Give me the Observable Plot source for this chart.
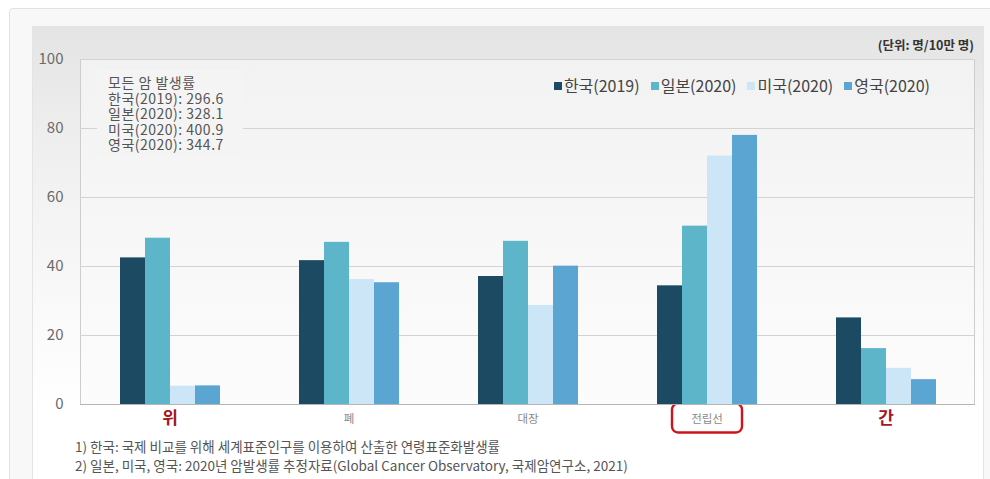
<!DOCTYPE html>
<html><head><meta charset="utf-8">
<script src="https://cdn.jsdelivr.net/npm/d3@7"></script>
<script src="https://cdn.jsdelivr.net/npm/@observablehq/plot@0.6"></script>
<style>
html,body{margin:0;padding:0;background:#fff;}
body{font-family:"Noto Sans CJK KR","Noto Sans",sans-serif;}
#wrap{position:relative;width:990px;height:479px;overflow:hidden;}
.abs{position:absolute;}
#outer{left:9px;top:8px;width:1000px;height:500px;border:1px solid #e2e2e2;border-radius:4px;background:#f8f8f8;}
#panel{left:32px;top:26px;width:950px;height:470px;border:1px solid #e4e4e4;background:linear-gradient(#e4e4e4 0px,#efefef 120px,#f8f8f8 260px,#fff 380px);}
#plotbg{left:80px;top:59px;width:895px;height:345px;border:1px solid #cdcdcd;border-bottom:none;box-sizing:border-box;background:linear-gradient(#f2f2f2,#f7f7f7 50%,#fcfcfc);}
#chart{left:0;top:0;}
#note{left:97px;top:70px;width:146px;padding:5px 0 4px 11px;box-sizing:border-box;background:#f4f4f4;font-size:14px;line-height:15.5px;letter-spacing:0.5px;color:#555;}
#legend{right:60px;top:73px;display:flex;gap:11px;font-size:16px;color:#444;white-space:nowrap;}
#legend span.sw{display:inline-block;width:8px;height:8px;margin-right:2px;vertical-align:2px;}
#unit{right:16px;top:35px;font-size:12.5px;font-weight:bold;color:#333;}
#foot{left:75px;top:437px;font-size:13.5px;line-height:18.5px;color:#555;white-space:nowrap;}
</style></head>
<body>
<div id="wrap">
  <div id="outer" class="abs"></div>
  <div id="panel" class="abs"></div>
  <div id="plotbg" class="abs"></div>
  <div id="chart" class="abs"></div>
  <div id="note" class="abs"></div>
  <div id="legend" class="abs"></div>
  <div id="unit" class="abs">(단위: 명/10만 명)</div>
  <div id="foot" class="abs"></div>
</div>
<script>
// ---- data ----
const categories = ["위", "폐", "대장", "전립선", "간"];
const series = ["한국(2019)", "일본(2020)", "미국(2020)", "영국(2020)"];
const korea2019 = [42.5, 41.7, 37.1, 34.4, 25.1];
const japan2020 = [48.2, 47.0, 47.3, 51.7, 16.2];
const usa2020   = [5.3, 36.2, 28.7, 72.0, 10.5];
const uk2020    = [5.4, 35.3, 40.1, 78.0, 7.2];
const colors = ["#1d4a63", "#5cb5c9", "#cce6f7", "#5aa5d2"];
const yTicks = [0, 20, 40, 60, 80, 100];
const allCancerTitle = "모든 암 발생률";
const allCancer = [296.6, 328.1, 400.9, 344.7];
const highlighted = ["위", "간"];
const boxed = ["전립선"];
const footnotes = [
  "1) 한국: 국제 비교를 위해 세계표준인구를 이용하여 산출한 연령표준화발생률",
  "2) 일본, 미국, 영국:  2020년 암발생률 추정자료(Global Cancer Observatory, 국제암연구소, 2021)"
];

const valuesBySeries = [korea2019, japan2020, usa2020, uk2020];
const table = [];
categories.forEach((c, i) => series.forEach((s, j) => table.push({cat: c, series: s, value: valuesBySeries[j][i]})));

const chart = Plot.plot({
  width: 990, height: 479,
  marginLeft: 80, marginRight: 15, marginTop: 59, marginBottom: 75,
  style: {background: "transparent", fontFamily: "'Noto Sans CJK KR', sans-serif", fontSize: "15px", color: "#6a6a6a", overflow: "visible"},
  fx: {domain: categories, padding: 0, axis: "bottom", label: null, tickSize: 0, tickPadding: 14},
  x: {domain: series, paddingInner: 0, paddingOuter: 1.535, axis: null},
  y: {domain: [0, 100], ticks: yTicks, tickSize: 0, tickPadding: 17, label: null, grid: false},
  color: {domain: series, range: colors},
  marks: [
    Plot.gridY(yTicks, {stroke: "#d3d3d3", strokeOpacity: 1}),
    Plot.barY(table, {fx: "cat", x: "series", y: "value", fill: "series", inset: 0}),
    Plot.ruleY([0], {stroke: "#b5b5b5", strokeWidth: 1.2})
  ]
});
document.getElementById("chart").appendChild(chart);

// style category labels
d3.select(chart).selectAll("text").each(function() {
  const t = this.textContent;
  if (!categories.includes(t)) return;
  const sel = d3.select(this).attr("y", null).attr("dy", "0.35em");
  if (highlighted.includes(t)) {
    sel.attr("fill", "#a3171d").style("font-size", "17px").style("font-weight", "bold");
  } else {
    sel.attr("fill", "#8a8a8a").style("font-size", "11.5px");
  }
  if (boxed.includes(t)) {
    const b = this.getBBox();
    const cx = b.x + b.width / 2, cy = b.y + b.height / 2;
    d3.select(this.parentNode).insert("rect", () => this)
      .attr("transform", this.getAttribute("transform"))
      .attr("x", cx - 35).attr("y", cy - 14).attr("width", 70).attr("height", 29)
      .attr("rx", 6).attr("fill", "none").attr("stroke", "#d0121b").attr("stroke-width", 2.4);
  }
});

// annotation
const note = document.getElementById("note");
note.innerHTML = `<div>${allCancerTitle}</div>` + series.map((s, i) => `<div>${s}: ${allCancer[i]}</div>`).join("");

// legend
document.getElementById("legend").innerHTML = series.map((s, i) =>
  `<span><span class="sw" style="background:${colors[i]}"></span>${s}</span>`).join("");

// footnotes
document.getElementById("foot").innerHTML = footnotes.map(f => `<div>${f}</div>`).join("");
</script>
</body></html>
